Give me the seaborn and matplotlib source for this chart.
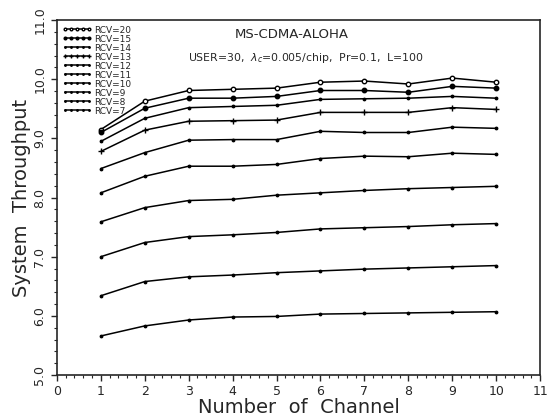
import numpy as np
import pandas as pd
import matplotlib
matplotlib.use("Agg")
import matplotlib.pyplot as plt
import seaborn as sns

channels = [1, 2, 3, 4, 5, 6, 7, 8, 9, 10]
rcv_labels = ["RCV=20", "RCV=15", "RCV=14", "RCV=13", "RCV=12",
              "RCV=11", "RCV=10", "RCV=9", "RCV=8", "RCV=7"]
rcv20 = [9.15, 9.63, 9.81, 9.83, 9.85, 9.95, 9.97, 9.92, 10.02, 9.95]
rcv15 = [9.10, 9.51, 9.68, 9.68, 9.71, 9.81, 9.81, 9.78, 9.88, 9.85]
rcv14 = [8.95, 9.34, 9.52, 9.54, 9.56, 9.66, 9.67, 9.68, 9.71, 9.68]
rcv13 = [8.78, 9.14, 9.29, 9.30, 9.31, 9.44, 9.44, 9.44, 9.52, 9.49]
rcv12 = [8.49, 8.76, 8.97, 8.98, 8.98, 9.12, 9.10, 9.10, 9.19, 9.17]
rcv11 = [8.08, 8.36, 8.53, 8.53, 8.56, 8.66, 8.70, 8.69, 8.75, 8.73]
rcv10 = [7.59, 7.83, 7.95, 7.97, 8.04, 8.08, 8.12, 8.15, 8.17, 8.19]
rcv9 = [7.00, 7.24, 7.34, 7.37, 7.41, 7.47, 7.49, 7.51, 7.54, 7.56]
rcv8 = [6.34, 6.58, 6.66, 6.69, 6.73, 6.76, 6.79, 6.81, 6.83, 6.85]
rcv7 = [5.66, 5.83, 5.93, 5.98, 5.99, 6.03, 6.04, 6.05, 6.06, 6.07]
series = [rcv20, rcv15, rcv14, rcv13, rcv12, rcv11, rcv10, rcv9, rcv8, rcv7]

rows = []
for lab, vals in zip(rcv_labels, series):
    for c, v in zip(channels, vals):
        rows.append({"channel": c, "throughput": v, "rcv": lab})
df = pd.DataFrame(rows)

sns.set_style("ticks")
plt.rcParams['font.family'] = ['DejaVu Sans']

fig = plt.figure(figsize=(5.58, 4.19), dpi=100)
ax = fig.add_axes([0.102, 0.105, 0.866, 0.847])

markers = {"RCV=20": "o", "RCV=15": "o", "RCV=14": ".", "RCV=13": "+",
           "RCV=12": ".", "RCV=11": ".", "RCV=10": ".", "RCV=9": ".",
           "RCV=8": ".", "RCV=7": "."}
sizes = {"RCV=20": 3.2, "RCV=15": 3.2, "RCV=13": 5}
for lab in rcv_labels:
    sub = df[df.rcv == lab]
    face = "white" if lab == "RCV=20" else "black"
    sns.lineplot(data=sub, x="channel", y="throughput", ax=ax, color="black",
                 lw=1.1, marker=markers[lab], markersize=sizes.get(lab, 3.5),
                 markerfacecolor=face, markeredgecolor="black",
                 markeredgewidth=1.0, label=lab)

ax.set_xlim(0, 11)
ax.set_ylim(5.0, 11.0)
ax.set_xticks(range(0, 12))
ax.set_yticks(np.arange(5.0, 11.01, 1.0))
ax.set_yticklabels([f"{v:.1f}" for v in np.arange(5.0, 11.01, 1.0)],
                   rotation=90, va="center")
ax.set_xticks(np.arange(0, 11.01, 0.2), minor=True)
ax.set_yticks(np.arange(5.0, 11.01, 0.2), minor=True)
ax.tick_params(which="major", length=4, width=1, labelsize=9, direction="out")
ax.tick_params(which="minor", length=2, width=0.8, direction="out")
for s in ax.spines.values():
    s.set_linewidth(1.2)
    s.set_visible(True)

ax.set_xlabel("Number  of  Channel", fontsize=14, labelpad=0)
ax.set_ylabel("System  Throughput", fontsize=14, labelpad=2)

ax.text(0.485, 0.96, "MS-CDMA-ALOHA", transform=ax.transAxes,
        ha="center", va="center", fontsize=9.5)
ax.text(0.515, 0.893, "USER=30,  $\\lambda_c$=0.005/chip,  Pr=0.1,  L=100",
        transform=ax.transAxes, ha="center", va="center", fontsize=7.8)

ax.legend(loc="upper left", frameon=False, fontsize=6.5, numpoints=5,
          handlelength=3.2, labelspacing=0.0, borderaxespad=0.2,
          handletextpad=0.3, markerscale=0.6)

fig.savefig("out.png", dpi=100)
